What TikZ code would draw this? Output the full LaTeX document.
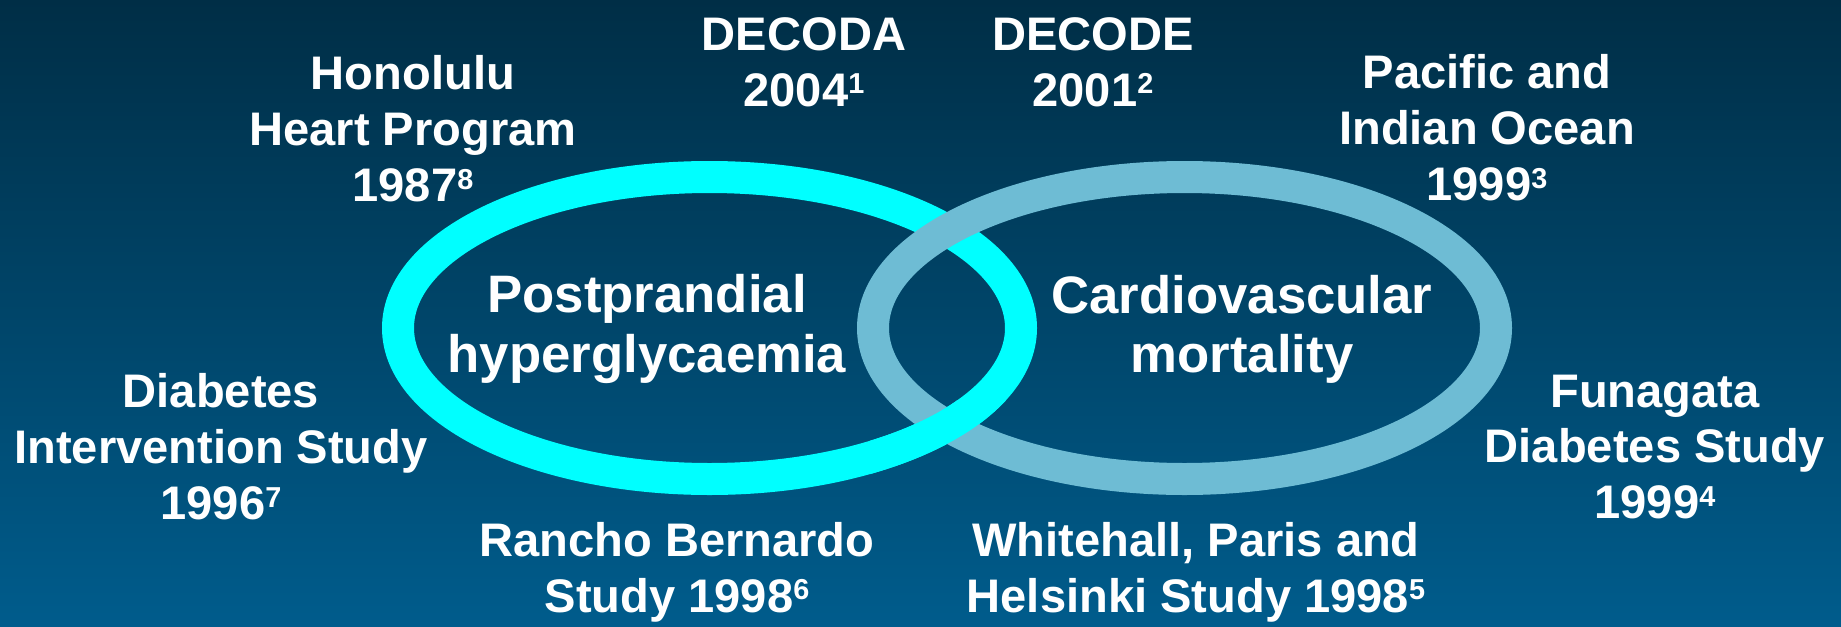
\documentclass[tikz,border=0pt]{standalone}
\usepackage{fontspec}
\setmainfont{Liberation Sans}
\definecolor{bgtop}{RGB}{0,46,70}
\definecolor{bgbottom}{RGB}{0,92,140}
\definecolor{ringcyan}{RGB}{0,255,255}
\definecolor{ringblue}{RGB}{110,188,212}
% reference numbers, small and level with the digit tops
\newcommand{\refno}[1]{\raisebox{3.6pt}{\fontsize{8.2}{8.2}\selectfont #1}}
\tikzset{
  study/.style={text=white, align=center, font=\bfseries\fontsize{13.4}{15.9}\selectfont, inner sep=0pt},
  topic/.style={text=white, align=center, font=\bfseries\fontsize{15}{16.8}\selectfont, inner sep=0pt},
  ring/.style={line width=0.32cm}
}
\begin{document}
\begin{tikzpicture}

	% background
	\shade [top color=bgtop, bottom color=bgbottom] (0,0) rectangle (18.41,-6.26);
	\useasboundingbox (0,0) rectangle (18.41,-6.26);

	% rings
	\draw [ring, ringcyan] (7.095,-3.28) ellipse [x radius=3.115, y radius=1.51];
	\draw [ring, ringblue] (11.845,-3.28) ellipse [x radius=3.115, y radius=1.51];
	\begin{scope}
		\clip (8.7,-4.0) rectangle (10.5,-5.3);
		\draw [ring, ringcyan] (7.095,-3.28) ellipse [x radius=3.115, y radius=1.51];
	\end{scope}

	% ring labels
	\node [topic] (glyc) at (6.47,-3.29) {Postprandial\\hyperglycaemia};
	\node [topic] (mort) at (12.42,-3.29) {Cardiovascular\\mortality};

	% studies
	\node [study] (honolulu) at (4.13,-1.29) {Honolulu\\Heart Program\\1987\refno{8}};
	\node [study] (decoda) at (8.04,-0.62) {DECODA\\2004\refno{1}};
	\node [study] (decode) at (10.93,-0.62) {DECODE\\2001\refno{2}};
	\node [study] (pacific) at (14.87,-1.28) {Pacific and\\Indian Ocean\\1999\refno{3}};
	\node [study] (dis) at (2.21,-4.47) {Diabetes\\Intervention Study\\1996\refno{7}};
	\node [study] (funagata) at (16.55,-4.47) {Funagata\\Diabetes Study\\1999\refno{4}};
	\node [study] (rancho) at (6.77,-5.72) {Rancho Bernardo\\Study 1998\refno{6}};
	\node [study] (whitehall) at (11.96,-5.72) {Whitehall, Paris and\\Helsinki Study 1998\refno{5}};

\end{tikzpicture}
\end{document}
